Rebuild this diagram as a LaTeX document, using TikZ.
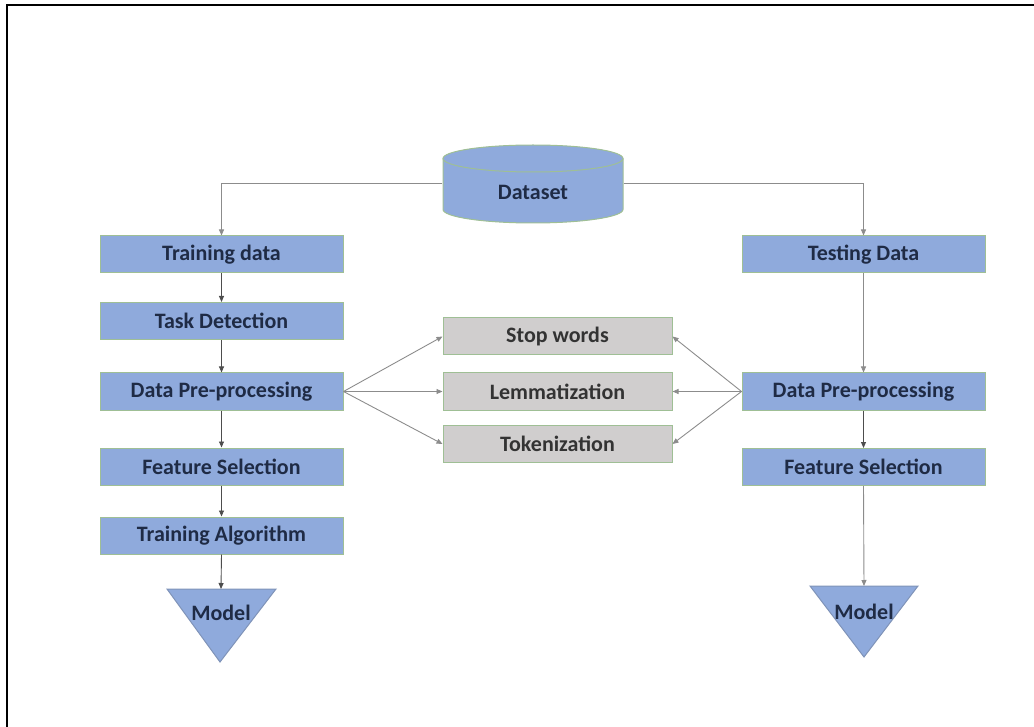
\documentclass[tikz,border=0pt]{standalone}
\usepackage{fontspec}
\setmainfont{Carlito}
\usetikzlibrary{arrows.meta,calc}
\definecolor{boxblue}{HTML}{8FAADC}
\definecolor{boxedge}{HTML}{9FBF95}
\definecolor{boxgray}{HTML}{D0CECE}
\definecolor{navytext}{HTML}{1F2B45}
\definecolor{graytext}{HTML}{333333}
\definecolor{lightline}{HTML}{8C8C8C}
\definecolor{darkline}{HTML}{4D4D4D}
\definecolor{triedge}{HTML}{7F93B8}
\tikzset{
  bluebox/.style={draw=boxedge, line width=1pt, fill=boxblue, minimum width=243pt, minimum height=37pt, inner sep=0pt, text=navytext, font=\fontsize{22}{24}\selectfont\bfseries},
  graybox/.style={draw=boxedge, line width=1pt, fill=boxgray, minimum width=229pt, minimum height=37pt, inner sep=0pt, text=graytext, font=\fontsize{22}{24}\selectfont\bfseries},
  txt/.style={inner sep=0pt, text=navytext, font=\fontsize{22}{24}\selectfont\bfseries},
  helper/.style={inner sep=0pt, minimum width=181pt, minimum height=78pt},
  flow/.style={darkline, line width=0.9pt, -{Triangle[length=6pt,width=5pt]}},
  fan/.style={lightline, line width=0.9pt, -{Triangle[length=6pt,width=5pt]}},
  branch/.style={lightline, line width=1pt, -{Triangle[length=6pt,width=5pt]}},
  tri/.style={draw=triedge, line width=1pt, fill=boxblue}
}
\begin{document}
\begin{tikzpicture}[x=1pt,y=-1pt]
\useasboundingbox (0,0) rectangle (1034,727);
% frame
\draw[line width=2pt, black] (7,727) -- (7,5) -- (1034,5);

% dataset cylinder
\fill[boxblue] (443,158.5) -- (443,209.5) arc[start angle=180,end angle=0,x radius=90,y radius=13.5] -- (623,158.5) -- cycle;
\draw[boxedge, line width=1pt] (443,158.5) -- (443,209.5) arc[start angle=180,end angle=0,x radius=90,y radius=13.5] -- (623,158.5);
\draw[boxedge, line width=1pt, fill=boxblue] (533,158.5) ellipse[x radius=90, y radius=13.5];
\node[helper] (ds) at (533,184) {};
\node[txt] (dstext) at (533,192) {Dataset};

% left column
\node[bluebox] (trd) at (221.5,254.5) {Training data};
\node[bluebox] (tdet) at (221.5,321) {Task Detection};
\node[bluebox] (dpl) at (221.5,391.5) {Data Pre-processing};
\node[bluebox] (fsl) at (221.5,466.5) {Feature Selection};
\node[bluebox] (alg) at (221.5,535.5) {Training Algorithm};

% right column
\node[bluebox] (ted) at (863.5,254.5) {Testing Data};
\node[bluebox] (dpr) at (863.5,391.5) {Data Pre-processing};
\node[bluebox] (fsr) at (863.5,467) {Feature Selection};

% middle
\node[graybox] (sw) at (557.5,336.5) {Stop words};
\node[graybox] (lem) at (557.5,391.5) {Lemmatization};
\node[graybox] (tok) at (557.5,444) {Tokenization};

% models
\draw[tri] (167,589) -- (276,589) -- (220,662) -- cycle;
\coordinate (ml) at (221,589);
\node[txt] (mltext) at (221,613) {Model};
\draw[tri] (810,586) -- (918,586) -- (864,657) -- cycle;
\coordinate (mr) at (864,586);
\node[txt] (mrtext) at (864,612) {Model};

% connectors
\draw[branch] (ds.west) -| (trd.north);
\draw[branch] (ds.east) -| (ted.north);
\draw[flow] (trd) -- (tdet);
\draw[flow] (tdet) -- (dpl);
\draw[flow] (dpl) -- (fsl);
\draw[flow] (fsl) -- (alg);
\draw[flow] (alg.south) -- (ml);
\draw[fan] (ted) -- (dpr);
\draw[flow] (dpr) -- (fsr);
\draw[fan] (fsr.south) -- (mr);
\draw[fan] (dpl.east) -- (sw.west);
\draw[fan] (dpl.east) -- (lem.west);
\draw[fan] (dpl.east) -- (tok.west);
\draw[fan] (dpr.west) -- (sw.east);
\draw[fan] (dpr.west) -- (lem.east);
\draw[fan] (dpr.west) -- (tok.east);
\end{tikzpicture}
\end{document}
